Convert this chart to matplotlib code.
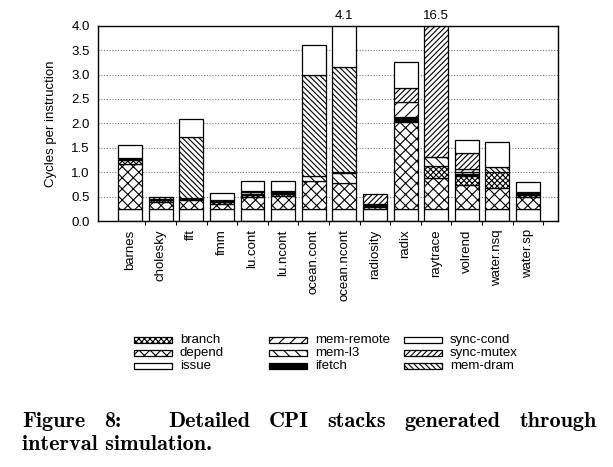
import matplotlib
matplotlib.use("Agg")
import matplotlib.pyplot as plt
from matplotlib.patches import Rectangle
import numpy as np

plt.rcParams['font.family'] = ['Liberation Sans', 'DejaVu Sans']
plt.rcParams['hatch.linewidth'] = 0.8

benchmarks = ['barnes', 'cholesky', 'fft', 'fmm', 'lu.cont', 'lu.ncont', 'ocean.cont',
              'ocean.ncont', 'radiosity', 'radix', 'raytrace', 'volrend', 'water.nsq', 'water.sp']

# CPI components (stack order, bottom to top)
issue      = [0.25, 0.25, 0.25, 0.25, 0.25, 0.25, 0.25, 0.25, 0.25, 0.25, 0.25, 0.25, 0.25, 0.25]
depend     = [0.92, 0.14, 0.17, 0.10, 0.25, 0.27, 0.57, 0.52, 0.03, 1.77, 0.64, 0.49, 0.43, 0.25]
branch     = [0.08, 0.03, 0.00, 0.04, 0.03, 0.03, 0.00, 0.00, 0.03, 0.00, 0.24, 0.19, 0.32, 0.03]
ifetch     = [0.01, 0.01, 0.00, 0.01, 0.02, 0.02, 0.00, 0.00, 0.01, 0.12, 0.00, 0.03, 0.00, 0.02]
mem_l3     = [0.03, 0.02, 0.03, 0.03, 0.00, 0.02, 0.10, 0.22, 0.02, 0.00, 0.19, 0.04, 0.00, 0.02]
mem_remote = [0.01, 0.00, 0.02, 0.00, 0.04, 0.00, 0.00, 0.02, 0.00, 0.29, 0.00, 0.06, 0.00, 0.00]
mem_dram   = [0.00, 0.05, 1.25, 0.00, 0.03, 0.03, 2.08, 2.14, 0.00, 0.00, 0.00, 0.00, 0.10, 0.02]
sync_mutex = [0.00, 0.00, 0.00, 0.00, 0.00, 0.00, 0.00, 0.00, 0.21, 0.29, 15.18, 0.33, 0.00, 0.00]
sync_cond  = [0.25, 0.00, 0.37, 0.15, 0.19, 0.19, 0.61, 0.95, 0.00, 0.53, 0.00, 0.27, 0.52, 0.20]

series = [
    ('issue', issue, 'white', ''),
    ('depend', depend, 'white', 'xxx'),
    ('branch', branch, 'white', 'xxxxxx'),
    ('ifetch', ifetch, 'black', ''),
    ('mem-l3', mem_l3, 'white', '\\\\\\'),
    ('mem-remote', mem_remote, 'white', '///'),
    ('mem-dram', mem_dram, 'white', '\\\\\\\\\\\\'),
    ('sync-mutex', sync_mutex, 'white', '//////'),
    ('sync-cond', sync_cond, 'white', ''),
]
legend_order = ['branch', 'depend', 'issue', 'mem-remote', 'mem-l3', 'ifetch',
                'sync-cond', 'sync-mutex', 'mem-dram']

caption_line1 = 'Figure 8: Detailed CPI stacks generated through'
caption_line2 = 'interval simulation.'

W, H = 613, 467
fig = plt.figure(figsize=(W / 100, H / 100), dpi=100)
ax = fig.add_axes([98 / W, 1 - 221 / H, (558 - 98) / W, (221 - 25.7) / H])

x = np.arange(len(benchmarks))
bottom = np.zeros(len(benchmarks))
for name, vals, fc, hatch in series:
    vals = np.array(vals)
    lws = [0.9 if v > 0 else 0 for v in vals]
    ax.bar(x, vals, width=0.78, bottom=bottom, facecolor=fc, edgecolor='black',
           hatch=hatch, linewidth=lws, zorder=2)
    bottom = bottom + vals

totals = bottom
ymax = 4.0
ax.set_ylim(0, ymax)
ax.set_xlim(-1.05, len(benchmarks) - 1 + 0.98)
for xi, t in zip(x, totals):
    if t > ymax:
        ax.annotate(f"{t:.1f}", (xi, ymax), xytext=(0, 3), textcoords='offset points',
                    ha='center', va='bottom', fontsize=9.5)

ax.set_yticks(np.arange(0, 4.01, 0.5))
ax.set_yticklabels([f"{v:.1f}" for v in np.arange(0, 4.01, 0.5)], fontsize=9.5)
ax.set_xticks(x)
ax.set_xticklabels(benchmarks, rotation=90, fontsize=9.5, va='top', ha='center')
ax.set_xticks(x + 0.5, minor=True)
ax.tick_params(axis='x', which='major', length=0, pad=6)
ax.tick_params(axis='x', which='minor', length=3, direction='out', width=0.8)
ax.tick_params(axis='y', length=0, pad=6)
ax.set_ylabel('Cycles per instruction', fontsize=9.5, labelpad=10)
ax.yaxis.grid(True, linestyle=(0, (1, 1.5)), color='#777777', linewidth=0.8, zorder=0)
ax.set_axisbelow(True)
for s in ax.spines.values():
    s.set_linewidth(1.0)

# manual legend
props = {name: (fc, hatch) for name, _, fc, hatch in series}
col_x = [134, 269, 404]
row_y = [340, 352.8, 366]
for i, name in enumerate(legend_order):
    c, r = divmod(i, 3)
    fc, hatch = props[name]
    x0 = col_x[c]
    yc = row_y[r]
    rect = Rectangle((x0 / W, 1 - (yc + 3) / H), 38 / W, 6 / H, transform=fig.transFigure,
                     facecolor=fc, edgecolor='black', hatch=hatch, linewidth=0.9)
    fig.add_artist(rect)
    fig.text((x0 + 46) / W, 1 - yc / H, name, fontsize=9.5, va='center', ha='left')

# caption: first line justified between margins (wider space after the colon)
cap_fs = 16
left_px, right_px = 22, 597
words = caption_line1.split()
gap_weights = [1, 2.5, 1, 1, 1, 1]
texts = [fig.text(0, 1 - 427 / H, wd, family='cmb10', fontsize=cap_fs, ha='left',
                  va='baseline') for wd in words]
fig.canvas.draw()
renderer = fig.canvas.get_renderer()
widths = [t.get_window_extent(renderer).width for t in texts]
unit = (right_px - left_px - sum(widths)) / sum(gap_weights)
pos = left_px
for i, (t, w) in enumerate(zip(texts, widths)):
    t.set_x(pos / W)
    if i < len(gap_weights):
        pos += w + unit * gap_weights[i]
fig.text(left_px / W, 1 - 450 / H, caption_line2, family='cmb10', fontsize=cap_fs,
         ha='left', va='baseline')

fig.savefig('out.png', dpi=100)
